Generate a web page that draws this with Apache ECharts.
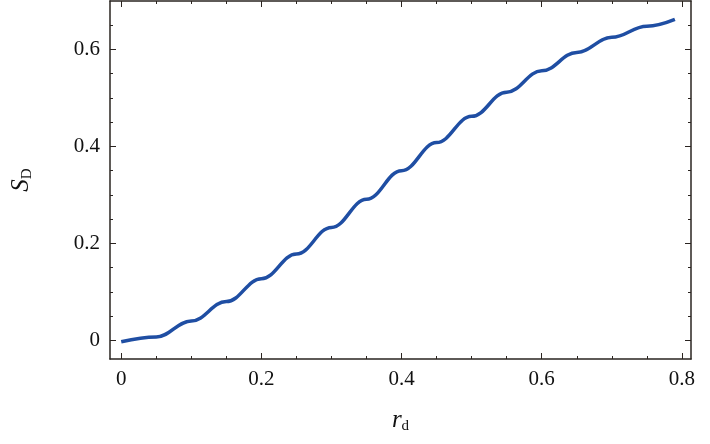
<!DOCTYPE html><html><head><meta charset="utf-8">
<script src="https://cdn.jsdelivr.net/npm/echarts@6/dist/echarts.min.js"></script>
<style>html,body{margin:0;padding:0;background:#fff}#c{width:710px;height:444px}</style></head>
<body><div id="c"></div><script>
const rd = [0,0.05,0.1,0.15,0.2,0.25,0.3,0.35,0.4,0.45,0.5,0.55,0.6,0.65,0.7,0.75,0.79];
const sd = [-0.003,0.007,0.040,0.080,0.127,0.178,0.233,0.291,0.350,0.408,0.462,0.512,0.556,0.594,0.625,0.648,0.662];
const xTicks = [0,0.2,0.4,0.6,0.8];
const yTicks = [0,0.2,0.4,0.6];
const xMinor = [0,0.05,0.1,0.15,0.2,0.25,0.3,0.35,0.4,0.45,0.5,0.55,0.6,0.65,0.7,0.75,0.8];
const yMinor = [0,0.05,0.1,0.15,0.2,0.25,0.3,0.35,0.4,0.45,0.5,0.55,0.6,0.65];
const font = 'Liberation Serif';
const lineC = '#2a2420';
const X0=-0.016, X1=0.813, Y0=-0.0385, Y1=0.70;
function ax(pos, min, max, majors, labels, extra){
  return Object.assign({type:'value', position:pos, min, max,
    axisLine:{show:true,onZero:false,lineStyle:{color:lineC,width:1.5}},
    axisTick:{show:true,inside:true,length:6,customValues:majors,lineStyle:{color:lineC}},
    splitLine:{show:false},
    axisLabel:{show:labels,customValues:majors,color:'#111',fontFamily:font,fontSize:21,margin:10,
      formatter:v=>String(Math.round(v*10)/10)}},extra||{});
}
function minorAx(pos,min,max,vals){
  return {type:'value',position:pos,min,max,
    axisLine:{show:false,onZero:false},splitLine:{show:false},axisLabel:{show:false,customValues:vals},
    axisTick:{show:true,inside:true,length:3,customValues:vals,lineStyle:{color:lineC}}};
}
const c = echarts.init(document.getElementById('c'));
c.setOption({
  animation:false,
  grid:{left:110,right:19,top:1,bottom:85},
  xAxis:[
    ax('bottom',X0,X1,xTicks,true,{name:'{i|r}{s|d}',nameLocation:'middle',nameGap:48,
      nameTextStyle:{rich:{i:{fontFamily:font,fontStyle:'italic',fontSize:25,color:'#111'},s:{fontFamily:font,fontSize:15,color:'#111',padding:[12,0,0,0]}}}}),
    ax('top',X0,X1,xTicks,false),
    minorAx('bottom',X0,X1,xMinor),
    minorAx('top',X0,X1,xMinor)
  ],
  yAxis:[
    ax('left',Y0,Y1,yTicks,true,{name:'{i|S}{s|D}',nameLocation:'middle',nameGap:75,nameRotate:90,
      nameTextStyle:{rich:{i:{fontFamily:font,fontStyle:'italic',fontSize:25,color:'#111'},s:{fontFamily:font,fontSize:15,color:'#111',padding:[12,0,0,0]}}}}),
    ax('right',Y0,Y1,yTicks,false),
    minorAx('left',Y0,Y1,yMinor),
    minorAx('right',Y0,Y1,yMinor)
  ],
  series:[{type:'line',data:rd.map((x,i)=>[x,sd[i]]),smooth:0.4,smoothMonotone:'x',symbol:'none',
    lineStyle:{color:'#1f4ea3',width:3.5}}]
});
</script></body></html>
